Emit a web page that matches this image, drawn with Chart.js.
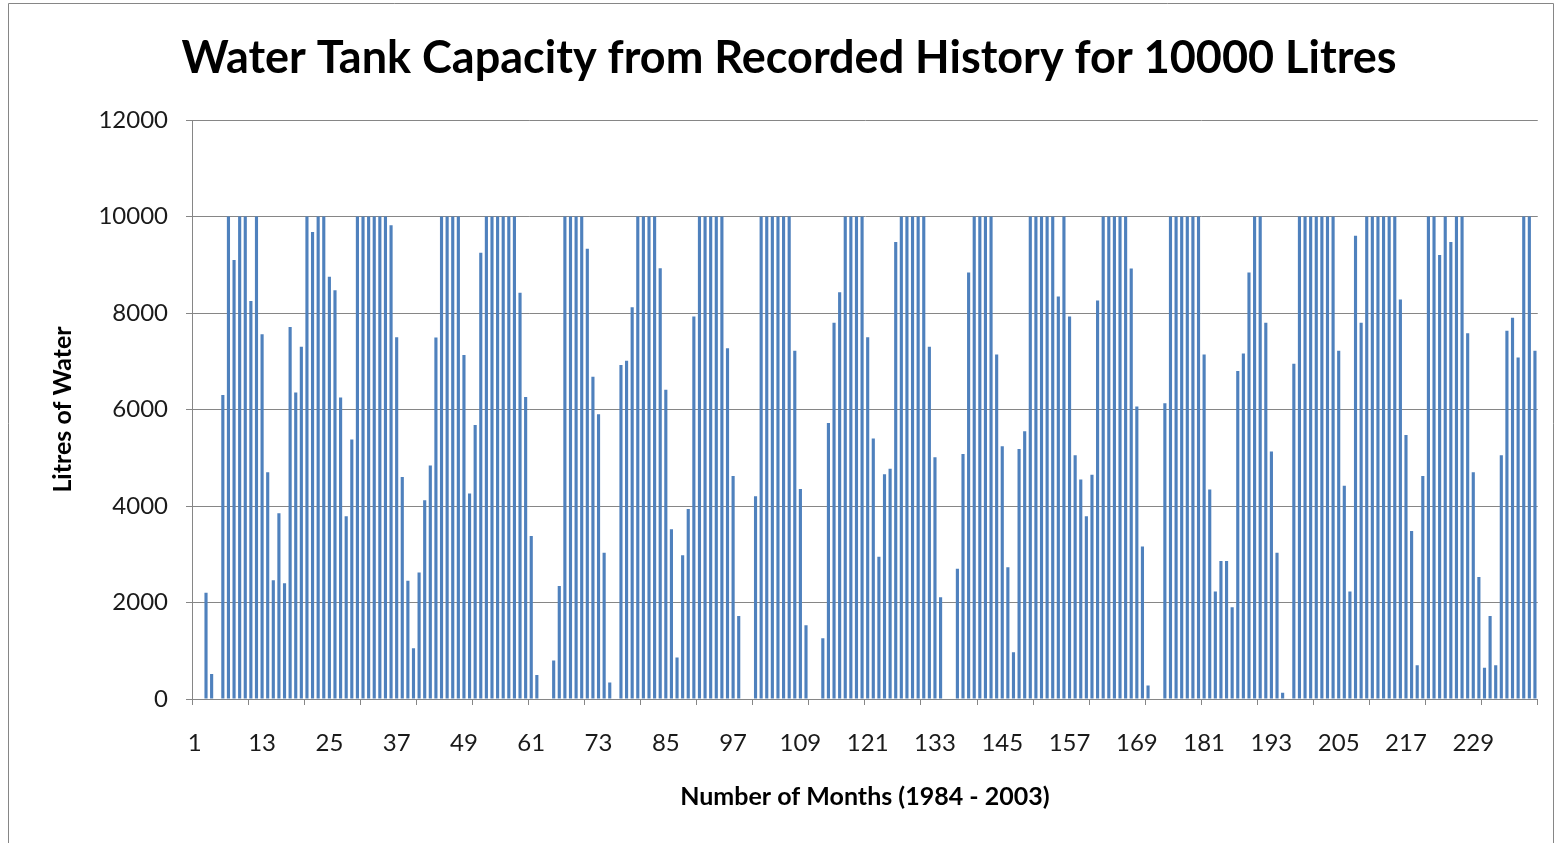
<!DOCTYPE html>
<html><head><meta charset="utf-8">
<script src="https://cdn.jsdelivr.net/npm/chart.js@4.4.0/dist/chart.umd.min.js"></script>
<style>html,body{margin:0;padding:0;background:#fff;}</style>
</head><body>
<canvas id="c" width="1559" height="843" style="display:block;width:1559px;height:843px"></canvas>
<script>
const y1984 = [0,0,2200,520,0,6300,10000,9100,10000,10000,8250,10000];
const y1985 = [7560,4700,2460,3850,2400,7710,6350,7300,10000,9680,10000,10000];
const y1986 = [8750,8470,6250,3790,5380,10000,10000,10000,10000,10000,10000,9820];
const y1987 = [7500,4600,2450,1050,2620,4120,4840,7490,10000,10000,10000,10000];
const y1988 = [7130,4260,5680,9250,10000,10000,10000,10000,10000,10000,8420,6260];
const y1989 = [3380,500,0,0,800,2340,10000,10000,10000,10000,9330,6680];
const y1990 = [5900,3030,340,0,6920,7010,8120,10000,10000,10000,10000,8930];
const y1991 = [6410,3520,860,2980,3940,7930,10000,10000,10000,10000,10000,7270];
const y1992 = [4620,1720,0,0,4200,10000,10000,10000,10000,10000,10000,7220];
const y1993 = [4350,1530,0,0,1260,5720,7800,8430,10000,10000,10000,10000];
const y1994 = [7500,5400,2950,4660,4770,9470,10000,10000,10000,10000,10000,7300];
const y1995 = [5010,2110,0,0,2700,5080,8840,10000,10000,10000,10000,7140];
const y1996 = [5240,2730,970,5180,5550,10000,10000,10000,10000,10000,8340,10000];
const y1997 = [7930,5050,4550,3790,4650,8260,10000,10000,10000,10000,10000,8920];
const y1998 = [6060,3160,280,0,0,6130,10000,10000,10000,10000,10000,10000];
const y1999 = [7140,4340,2230,2860,2860,1900,6800,7160,8840,10000,10000,7800];
const y2000 = [5130,3030,130,0,6950,10000,10000,10000,10000,10000,10000,10000];
const y2001 = [7220,4420,2230,9600,7800,10000,10000,10000,10000,10000,10000,8280];
const y2002 = [5470,3480,700,4620,10000,10000,9200,10000,9470,10000,10000,7580];
const y2003 = [4700,2530,650,1720,700,5050,7630,7900,7080,10000,10000,7220];

const litres = [].concat(y1984,y1985,y1986,y1987,y1988,y1989,y1990,y1991,y1992,y1993,
                         y1994,y1995,y1996,y1997,y1998,y1999,y2000,y2001,y2002,y2003);
const monthLabels = litres.map((v, i) => String(i + 1));
const xTickLabels = ['1','13','25','37','49','61','73','85','97','109','121','133','145','157','169','181','193','205','217','229'];
const yTickValues = [0,2000,4000,6000,8000,10000,12000];

const titleText = 'Water Tank Capacity from Recorded History for 10000 Litres';
const xTitle = 'Number of Months (1984 - 2003)';
const yTitle = 'Litres of Water';

const FONT = 'Lato, "Open Sans", sans-serif';
const GRID = '#868686';

const framePlugin = {
  id: 'frame',
  beforeDraw(chart) {
    const ctx = chart.ctx;
    ctx.save();
    ctx.fillStyle = '#ffffff';
    ctx.fillRect(0, 0, chart.width, chart.height);
    ctx.strokeStyle = GRID;
    ctx.lineWidth = 1;
    ctx.beginPath();
    ctx.moveTo(8.5, 860); ctx.lineTo(8.5, 3.5); ctx.lineTo(1553.5, 3.5); ctx.lineTo(1553.5, 860);
    ctx.stroke();
    ctx.restore();
  }
};

new Chart(document.getElementById('c'), {
  type: 'bar',
  data: {
    labels: monthLabels,
    datasets: [{
      data: litres,
      backgroundColor: '#4F81BD',
      borderWidth: 0,
      categoryPercentage: 1.0,
      barPercentage: 0.56
    }]
  },
  options: {
    responsive: false,
    animation: false,
    devicePixelRatio: 1,
    layout: { padding: { left: 40, right: 21, top: 0, bottom: 0 } },
    plugins: {
      legend: { display: false },
      tooltip: { enabled: false },
      title: {
        display: true,
        text: titleText,
        color: '#000',
        font: { family: FONT, size: 45, weight: 'bold' },
        padding: { top: 31, bottom: 35 }
      }
    },
    scales: {
      x: {
        offset: true,
        grid: {
          offset: true,
          drawOnChartArea: false,
          drawTicks: true,
          tickLength: 6,
          color: (c) => (c.index === undefined || c.index % 10 === 0) ? GRID : 'rgba(0,0,0,0)'
        },
        border: { display: true, color: GRID, width: 1 },
        ticks: {
          autoSkip: false,
          maxRotation: 0,
          minRotation: 0,
          color: '#1a1a1a',
          font: { family: FONT, size: 24 },
          padding: 24,
          callback: function(value, index) {
            const lab = monthLabels[index];
            return xTickLabels.includes(lab) ? lab : '';
          }
        },
        title: {
          display: true,
          text: xTitle,
          color: '#000',
          font: { family: FONT, size: 25, weight: 'bold' },
          padding: { top: 0, bottom: 31 }
        },
        afterFit(scale) { scale.height = 144; }
      },
      y: {
        min: 0,
        max: 12000,
        afterBuildTicks(scale) { scale.ticks = yTickValues.map(v => ({ value: v })); },
        grid: { color: GRID, lineWidth: 1, drawTicks: true, tickLength: 6 },
        border: { display: true, color: GRID, width: 1 },
        ticks: {
          color: '#1a1a1a',
          font: { family: FONT, size: 24 },
          padding: 18,
          callback: (v) => String(v)
        },
        title: {
          display: true,
          text: yTitle,
          color: '#000',
          font: { family: FONT, size: 25, weight: 'bold' },
          padding: { top: 8, bottom: 0 }
        },
        afterFit(scale) { scale.width = 152; }
      }
    }
  },
  plugins: [framePlugin]
});
</script>
</body></html>
